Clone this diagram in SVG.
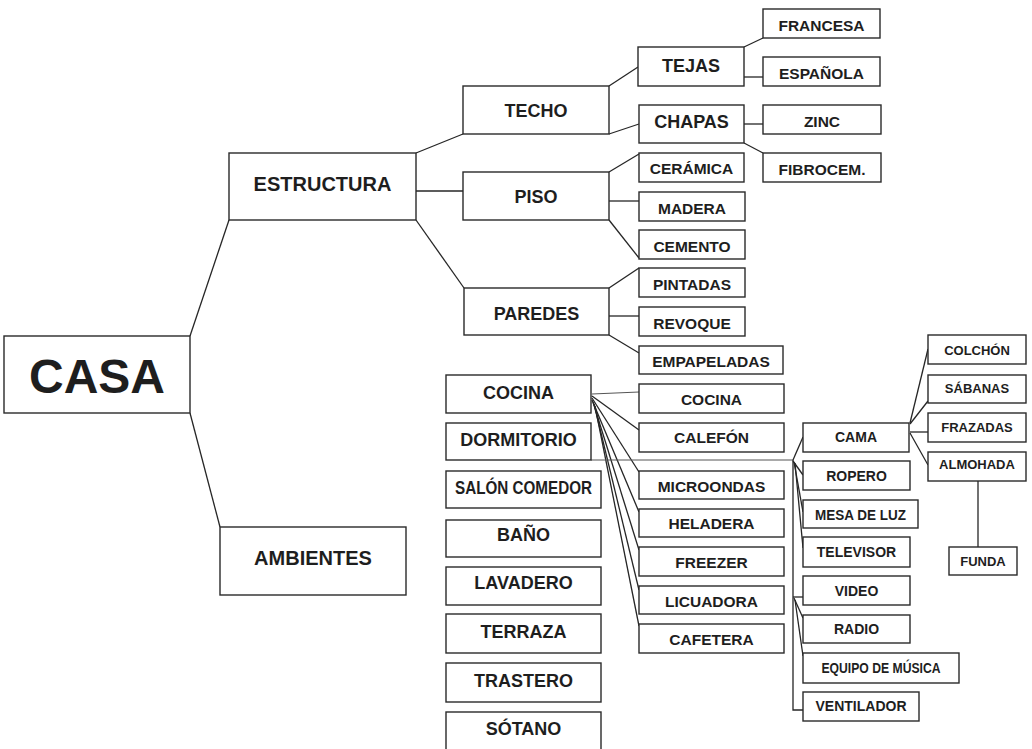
<svg xmlns="http://www.w3.org/2000/svg" width="1032" height="749" viewBox="0 0 1032 749">
<style>
  .bg{fill:#ffffff}
  .box{fill:#ffffff;stroke:#2a2a2a;stroke-width:1.4}
  .t{font-family:"Liberation Sans",Arial,sans-serif;font-weight:bold;fill:#1e1e1e;text-anchor:middle}
  .f48{font-size:48px}
  .f20{font-size:20px}
  .f18{font-size:18px}
  .f17{font-size:17.5px}
  .f15{font-size:15.5px}
  .f14{font-size:14px}
  .f13{font-size:13px}
  .c{fill:none;stroke:#262626;stroke-width:1.3}
  .cl{fill:none;stroke:#555;stroke-width:1}
</style>
<rect class="bg" x="0" y="0" width="1032" height="749"/>

<g id="connectors">
  <line class="c" x1="190" y1="336" x2="229" y2="220"/>
  <line class="c" x1="190" y1="413" x2="220" y2="527"/>
  <line class="c" x1="416" y1="153" x2="463" y2="134"/>
  <line class="c" x1="416" y1="191" x2="463" y2="191"/>
  <line class="c" x1="416" y1="220" x2="464" y2="288"/>
  <line class="c" x1="609" y1="86" x2="638" y2="67"/>
  <line class="c" x1="609" y1="134" x2="639" y2="124"/>
  <line class="c" x1="609" y1="172" x2="639" y2="154"/>
  <line class="c" x1="609" y1="201" x2="639" y2="201"/>
  <line class="c" x1="609" y1="220" x2="639" y2="258"/>
  <line class="c" x1="609" y1="288" x2="639" y2="268"/>
  <line class="c" x1="609" y1="316" x2="639" y2="316"/>
  <line class="c" x1="609" y1="335" x2="639" y2="353"/>
  <line class="c" x1="744" y1="47" x2="763" y2="38"/>
  <line class="c" x1="744" y1="77" x2="763" y2="77"/>
  <line class="c" x1="744" y1="124" x2="763" y2="124"/>
  <line class="c" x1="744" y1="143" x2="763" y2="153"/>
  <!-- cocina fan -->
  <line class="cl" x1="592" y1="394" x2="639" y2="392"/>
  <line class="c" x1="592" y1="396" x2="639" y2="430"/>
  <line class="c" x1="592" y1="398" x2="639" y2="472"/>
  <line class="c" x1="592" y1="400" x2="639" y2="512"/>
  <line class="c" x1="593" y1="402" x2="639" y2="550"/>
  <line class="c" x1="594" y1="404" x2="639" y2="590"/>
  <line class="c" x1="595" y1="406" x2="639" y2="626"/>
  <!-- dormitorio -->
  <line class="cl" x1="591" y1="460" x2="793" y2="460"/>
  <polyline class="c" points="793,460 793,710 803,710"/>
  <line class="c" x1="793" y1="460" x2="803" y2="437"/>
  <line class="c" x1="793" y1="461" x2="803" y2="475"/>
  <line class="c" x1="794" y1="462" x2="803" y2="512"/>
  <line class="c" x1="795" y1="463" x2="803" y2="548"/>
  <line class="c" x1="793" y1="597" x2="803" y2="597"/>
  <line class="c" x1="794" y1="598" x2="803" y2="618"/>
  <line class="c" x1="795" y1="600" x2="803" y2="656"/>
  <!-- cama -->
  <line class="c" x1="910" y1="423" x2="928" y2="349"/>
  <line class="c" x1="910" y1="424" x2="928" y2="401"/>
  <line class="c" x1="910" y1="432" x2="928" y2="432"/>
  <line class="c" x1="910" y1="433" x2="928" y2="465"/>
  <line class="c" x1="978" y1="481" x2="978" y2="547"/>
</g>

<g id="n-casa"><rect class="box" x="4" y="336" width="186" height="77"/><text class="t f48" x="97" y="393">CASA</text></g>
<g id="n-estructura"><rect class="box" x="229" y="153" width="187" height="67"/><text class="t f20" x="322.5" y="191">ESTRUCTURA</text></g>
<g id="n-ambientes"><rect class="box" x="220" y="527" width="186" height="68"/><text class="t f20" x="313" y="565">AMBIENTES</text></g>

<g id="n-techo"><rect class="box" x="463" y="86" width="146" height="48"/><text class="t f18" x="536" y="117">TECHO</text></g>
<g id="n-piso"><rect class="box" x="463" y="172" width="146" height="48"/><text class="t f18" x="536" y="203">PISO</text></g>
<g id="n-paredes"><rect class="box" x="464" y="288" width="145" height="47"/><text class="t f18" x="536.5" y="320">PAREDES</text></g>

<g id="n-tejas"><rect class="box" x="638" y="47" width="106" height="39"/><text class="t f18" x="691" y="72">TEJAS</text></g>
<g id="n-chapas"><rect class="box" x="639" y="105" width="105" height="38"/><text class="t f18" x="691.5" y="128">CHAPAS</text></g>
<g id="n-ceramica"><rect class="box" x="639" y="153" width="105" height="29"/><text class="t f15" x="691.5" y="174">CERÁMICA</text></g>
<g id="n-madera"><rect class="box" x="639" y="192" width="106" height="29"/><text class="t f15" x="692" y="214">MADERA</text></g>
<g id="n-cemento"><rect class="box" x="639" y="230" width="106" height="29"/><text class="t f15" x="692" y="252">CEMENTO</text></g>
<g id="n-pintadas"><rect class="box" x="639" y="268" width="106" height="29"/><text class="t f15" x="692" y="290">PINTADAS</text></g>
<g id="n-revoque"><rect class="box" x="639" y="307" width="106" height="29"/><text class="t f15" x="692" y="329">REVOQUE</text></g>
<g id="n-empapeladas"><rect class="box" x="639" y="346" width="144" height="28"/><text class="t f15" x="711" y="367">EMPAPELADAS</text></g>

<g id="n-francesa"><rect class="box" x="763" y="9" width="117" height="29"/><text class="t f15" x="821.5" y="31">FRANCESA</text></g>
<g id="n-espanola"><rect class="box" x="763" y="57" width="117" height="29"/><text class="t f15" x="821.5" y="79">ESPAÑOLA</text></g>
<g id="n-zinc"><rect class="box" x="763" y="105" width="118" height="29"/><text class="t f15" x="822" y="127">ZINC</text></g>
<g id="n-fibrocem"><rect class="box" x="763" y="153" width="118" height="29"/><text class="t f15" x="822" y="175">FIBROCEM.</text></g>

<g id="n-cocina"><rect class="box" x="446" y="375" width="145" height="38"/><text class="t f18" x="518.5" y="399">COCINA</text></g>
<g id="n-dormitorio"><rect class="box" x="446" y="423" width="145" height="37"/><text class="t f18" x="518.5" y="446">DORMITORIO</text></g>
<g id="n-salon"><rect class="box" x="446" y="471" width="155" height="37"/><text class="t f18" x="523.5" y="494" textLength="137" lengthAdjust="spacingAndGlyphs">SALÓN COMEDOR</text></g>
<g id="n-bano"><rect class="box" x="446" y="520" width="155" height="37"/><text class="t f18" x="523.5" y="541">BAÑO</text></g>
<g id="n-lavadero"><rect class="box" x="446" y="567" width="155" height="38"/><text class="t f18" x="523.5" y="589">LAVADERO</text></g>
<g id="n-terraza"><rect class="box" x="446" y="614" width="155" height="39"/><text class="t f18" x="523.5" y="638">TERRAZA</text></g>
<g id="n-trastero"><rect class="box" x="446" y="663" width="155" height="39"/><text class="t f18" x="523.5" y="687">TRASTERO</text></g>
<g id="n-sotano"><rect class="box" x="446" y="712" width="155" height="42"/><text class="t f18" x="523.5" y="735">SÓTANO</text></g>

<g id="n-cocina2"><rect class="box" x="639" y="384" width="145" height="29"/><text class="t f15" x="711.5" y="405">COCINA</text></g>
<g id="n-calefon"><rect class="box" x="639" y="423" width="145" height="29"/><text class="t f15" x="711.5" y="443">CALEFÓN</text></g>
<g id="n-microondas"><rect class="box" x="639" y="471" width="145" height="28"/><text class="t f15" x="711.5" y="492">MICROONDAS</text></g>
<g id="n-heladera"><rect class="box" x="639" y="509" width="145" height="28"/><text class="t f15" x="711.5" y="529">HELADERA</text></g>
<g id="n-freezer"><rect class="box" x="639" y="547" width="145" height="29"/><text class="t f15" x="711.5" y="568">FREEZER</text></g>
<g id="n-licuadora"><rect class="box" x="639" y="586" width="145" height="28"/><text class="t f15" x="711.5" y="607">LICUADORA</text></g>
<g id="n-cafetera"><rect class="box" x="639" y="624" width="145" height="29"/><text class="t f15" x="711.5" y="645">CAFETERA</text></g>

<g id="n-cama"><rect class="box" x="803" y="423" width="106" height="29"/><text class="t f14" x="856" y="442">CAMA</text></g>
<g id="n-ropero"><rect class="box" x="803" y="461" width="107" height="29"/><text class="t f14" x="856.5" y="481">ROPERO</text></g>
<g id="n-mesa"><rect class="box" x="803" y="500" width="115" height="28"/><text class="t f14" x="860.5" y="520" textLength="91" lengthAdjust="spacingAndGlyphs">MESA DE LUZ</text></g>
<g id="n-televisor"><rect class="box" x="803" y="537" width="107" height="30"/><text class="t f14" x="856.5" y="557">TELEVISOR</text></g>
<g id="n-video"><rect class="box" x="803" y="576" width="107" height="29"/><text class="t f14" x="856.5" y="596">VIDEO</text></g>
<g id="n-radio"><rect class="box" x="803" y="615" width="107" height="28"/><text class="t f14" x="856.5" y="634">RADIO</text></g>
<g id="n-equipo"><rect class="box" x="803" y="653" width="156" height="30"/><text class="t f14" x="881" y="673" textLength="119" lengthAdjust="spacingAndGlyphs">EQUIPO DE MÚSICA</text></g>
<g id="n-ventilador"><rect class="box" x="803" y="692" width="116" height="29"/><text class="t f14" x="861" y="711">VENTILADOR</text></g>

<g id="n-colchon"><rect class="box" x="928" y="335" width="98" height="29"/><text class="t f13" x="977" y="355">COLCHÓN</text></g>
<g id="n-sabanas"><rect class="box" x="928" y="375" width="98" height="28"/><text class="t f13" x="977" y="393">SÁBANAS</text></g>
<g id="n-frazadas"><rect class="box" x="928" y="413" width="98" height="29"/><text class="t f13" x="977" y="432">FRAZADAS</text></g>
<g id="n-almohada"><rect class="box" x="928" y="452" width="98" height="29"/><text class="t f13" x="977" y="469">ALMOHADA</text></g>
<g id="n-funda"><rect class="box" x="949" y="547" width="68" height="28"/><text class="t f13" x="983" y="566">FUNDA</text></g>
</svg>
